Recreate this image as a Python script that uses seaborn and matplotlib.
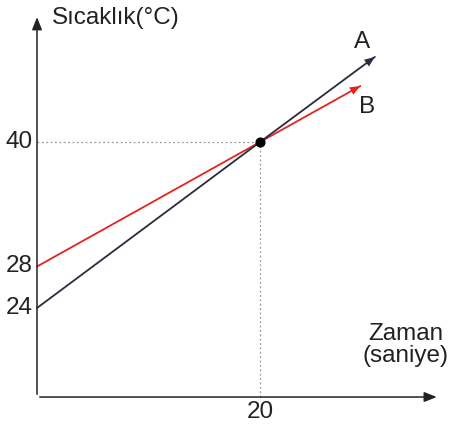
import matplotlib.pyplot as plt
import seaborn as sns
import pandas as pd

# data (schematic temperature vs time)
time_a = [0, 20, 30.3]
temp_a = [24, 40, 48.2]
time_b = [0, 20, 29]
temp_b = [28, 40, 45.4]
y_ticks = [40, 28, 24]
x_ticks = [20]
cross_point = (20, 40)

col_a = '#2b2b3b'
col_b = '#e3241f'

sns.set_style('white')
plt.rcParams['font.family'] = ['Liberation Sans', 'DejaVu Sans']

fig = plt.figure(figsize=(4.51, 4.24), dpi=100)
ax = fig.add_axes([0, 0, 1, 1])
# pixel mapping: x 0 -> 37px, 11.15 px/unit ; y 40 -> 142px, 10.375 px/unit
ax.set_xlim(-37 / 11.15, 414 / 11.15)
ax.set_ylim(40 - 282 / 10.375, 40 + 142 / 10.375)
ax.axis('off')

y_min = 15.42
x_max, y_max = 36.1, 52.3

# axes with arrows
ax.annotate('', xy=(0, y_max), xytext=(0, y_min),
            arrowprops=dict(arrowstyle='-|>,head_length=0.75,head_width=0.3', color='#222222', lw=1.1))
ax.annotate('', xy=(x_max, y_min), xytext=(0, y_min),
            arrowprops=dict(arrowstyle='-|>,head_length=0.75,head_width=0.3', color='#222222', lw=1.1))

# guide lines
ax.plot([0, cross_point[0]], [cross_point[1], cross_point[1]], ls=(0, (1.5, 2)), color='#999999', lw=0.9)
ax.plot([cross_point[0], cross_point[0]], [y_min, cross_point[1]], ls=(0, (1.5, 2)), color='#999999', lw=0.9)

df_a = pd.DataFrame({'t': time_a, 'T': temp_a})
df_b = pd.DataFrame({'t': time_b, 'T': temp_b})
sns.lineplot(data=df_b, x='t', y='T', ax=ax, color=col_b, lw=1.3, sort=False)
sns.lineplot(data=df_a, x='t', y='T', ax=ax, color=col_a, lw=1.3, sort=False)

# arrowheads at line ends
ax.annotate('', xy=(time_a[-1], temp_a[-1]), xytext=(time_a[-2], temp_a[-2]),
            arrowprops=dict(arrowstyle='-|>,head_length=0.75,head_width=0.3', color=col_a, lw=0, shrinkA=0, shrinkB=0))
ax.annotate('', xy=(time_b[-1], temp_b[-1]), xytext=(time_b[-2], temp_b[-2]),
            arrowprops=dict(arrowstyle='-|>,head_length=0.75,head_width=0.3', color=col_b, lw=0, shrinkA=0, shrinkB=0))

ax.scatter([cross_point[0]], [cross_point[1]], s=40, color='black', zorder=5)

fs = 17.5
for v in y_ticks:
    ax.text(-0.36, v, str(v), ha='right', va='center', fontsize=fs, color='#222222')
for v in x_ticks:
    ax.text(v, 13.98, str(v), ha='center', va='center', fontsize=fs, color='#222222')

ax.text(1.35, 51.95, 'Sıcaklık(°C)', ha='left', va='center', fontsize=fs, color='#222222')
ax.text(33.09, 20.43, 'Zaman\n(saniye)', ha='center', va='center', fontsize=fs,
        color='#222222', linespacing=1.05)
ax.text(29.15, 49.64, 'A', ha='center', va='center', fontsize=fs, color='#222222')
ax.text(29.6, 43.37, 'B', ha='center', va='center', fontsize=fs, color='#222222')

plt.savefig('out.png', dpi=100)
plt.close()
